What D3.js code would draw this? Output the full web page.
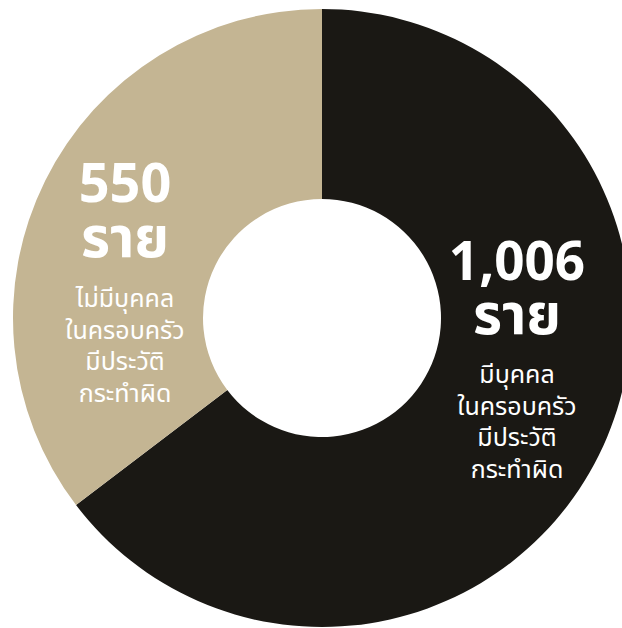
<!DOCTYPE html>
<html><head><meta charset="utf-8">
<script src="https://cdn.jsdelivr.net/npm/d3@7"></script>
<style>body{margin:0;background:#fff}svg{display:block}</style>
</head><body>
<svg id="c" width="622" height="628"></svg>
<script>
const categories = ["มีบุคคลในครอบครัวมีประวัติกระทำผิด", "ไม่มีบุคคลในครอบครัวมีประวัติกระทำผิด"];
const values = [1006, 550];
const numberLabels = ["1,006", "550"];
const unitLabel = "ราย";
const descLines = [["มีบุคคล", "ในครอบครัว", "มีประวัติ", "กระทำผิด"], ["ไม่มีบุคคล", "ในครอบครัว", "มีประวัติ", "กระทำผิด"]];
const colors = ["#1a1814", "#c4b593"];

const svg = d3.select("#c");
const cx = 322, cy = 318, R = 309, r = 119;
const g = svg.append("g").attr("transform", `translate(${cx},${cy})`);
const pie = d3.pie().sort(null).value(d => d)(values);
const arc = d3.arc().innerRadius(r).outerRadius(R);
g.selectAll("path").data(pie).enter().append("path")
  .attr("d", arc).attr("fill", (d, i) => colors[i]);

const font = "'Noto Sans Thai','Noto Sans','Open Sans',sans-serif";
const layout = [
  {x: 517, numY: 280, numSize: 53, unitY: 334, unitSize: 56, lineY: 383, lineStep: 31.5},
  {x: 125, numY: 202, numSize: 54, unitY: 257, unitSize: 56, lineY: 307, lineStep: 31.7}
];
layout.forEach((L, i) => {
  const t = svg.append("text").attr("fill", "#fff").attr("text-anchor", "middle")
    .style("font-family", font).attr("x", L.x).attr("y", L.numY);
  t.append("tspan").attr("x", L.x).attr("y", L.numY).attr("font-size", L.numSize).attr("font-weight", 700).text(numberLabels[i]);
  t.append("tspan").attr("x", L.x).attr("y", L.unitY).attr("font-size", L.unitSize).attr("font-weight", 700).text(unitLabel);
  descLines[i].forEach((s, k) => {
    t.append("tspan").attr("x", L.x).attr("y", L.lineY + k * L.lineStep).attr("font-size", 25).attr("font-weight", 400).text(s);
  });
});
</script>
</body></html>
